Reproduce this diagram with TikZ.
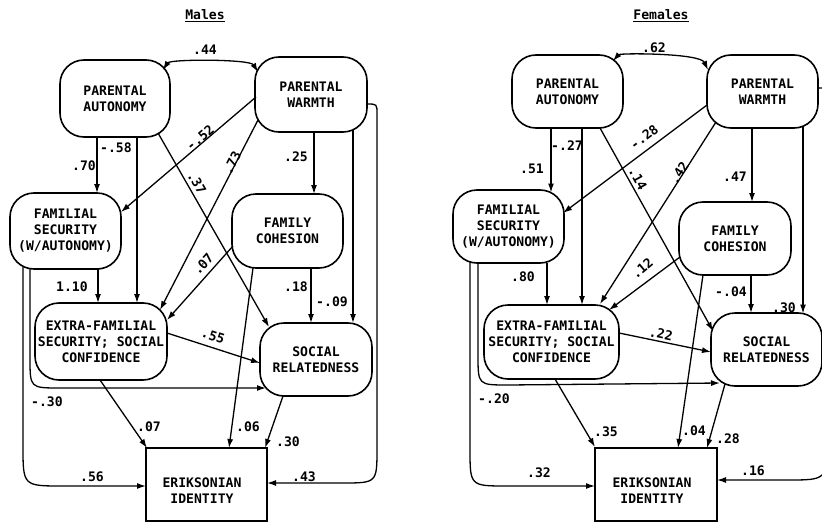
\documentclass[tikz,border=0pt]{standalone}
\usepackage{fontspec}
\newfontfamily\diagfont{DejaVu Sans Mono}
\newcommand\dfont{\diagfont\bfseries\fontsize{13.1}{16}\selectfont}
\usetikzlibrary{arrows.meta}
\tikzset{
  blob/.style={draw, line width=1.6pt, rounded corners=24pt, align=center, inner sep=0pt, font=\dfont},
  sqbox/.style={draw, line width=1.6pt, inner sep=0pt},
  lab/.style={font=\dfont, inner sep=0pt, align=center},
  arr/.style={-{Latex[length=9pt,width=6pt]}, line width=1.3pt},
  darr/.style={{Latex[length=9pt,width=6pt]}-{Latex[length=9pt,width=6pt]}, line width=1.3pt}
}
\begin{document}
\begin{tikzpicture}[x=1pt,y=-1pt]
\useasboundingbox (0,0) rectangle (822,522);

% ---------------- Males ----------------
\node[lab] (mT) at (205,16) {\underline{Males}};
\node[blob, minimum width=110pt, minimum height=77pt] (mPA) at (115,98.5) {PARENTAL\\AUTONOMY};
\node[blob, minimum width=112pt, minimum height=75pt] (mPW) at (311,94.5) {PARENTAL\\WARMTH};
\node[blob, minimum width=111pt, minimum height=76pt] (mFS) at (65.5,231) {FAMILIAL\\SECURITY\\(W/AUTONOMY)};
\node[blob, minimum width=111pt, minimum height=74pt] (mFC) at (287.5,231) {FAMILY\\COHESION};
\node[blob, minimum width=132pt, minimum height=77pt] (mEF) at (101,341.5) {EXTRA-FAMILIAL\\SECURITY; SOCIAL\\CONFIDENCE};
\node[blob, minimum width=112pt, minimum height=73pt] (mSR) at (316,359.5) {SOCIAL\\RELATEDNESS};
\node[sqbox, minimum width=121pt, minimum height=73pt] (mER) at (206.5,484.5) {};
\node[lab] (mERt) at (202,491) {ERIKSONIAN\\IDENTITY};

\draw[darr] ([shift={(48,-28.5)}]mPA.center) .. controls (170,59) and (250,59) .. ([shift={(-53,-22.5)}]mPW.center);
\draw[arr] ([shift={(-18,38.5)}]mPA.center) -- ([shift={(31.5,-38)}]mFS.center);
\draw[arr] ([shift={(22,38.5)}]mPA.center) -- ([shift={(36,-38.5)}]mEF.center);
\draw[arr] ([shift={(43,34.5)}]mPA.center) -- ([shift={(-47,-32.5)}]mSR.center);
\draw[arr] ([shift={(-55,2.5)}]mPW.center) -- ([shift={(55.5,-19)}]mFS.center);
\draw[arr] ([shift={(-53,25.5)}]mPW.center) -- ([shift={(59,-31.5)}]mEF.center);
\draw[arr] ([shift={(3,37.5)}]mPW.center) -- ([shift={(26.5,-37)}]mFC.center);
\draw[arr] ([shift={(42,35.5)}]mPW.center) -- ([shift={(37,-36.5)}]mSR.center);
\draw[arr] ([shift={(56,9.5)}]mPW.center) .. controls (377,104) .. (377,114) -- (377,448) .. controls (377,483) .. (342,483) -- ([shift={(60.5,-1.5)}]mER.center);
\draw[arr] ([shift={(-54.5,15)}]mFC.center) -- ([shift={(66,-21.5)}]mEF.center);
\draw[arr] ([shift={(23.5,37)}]mFC.center) -- ([shift={(-5,-36.5)}]mSR.center);
\draw[arr] ([shift={(-34.5,37)}]mFC.center) -- ([shift={(22.5,-36.5)}]mER.center);
\draw[arr] ([shift={(32.5,38)}]mFS.center) -- ([shift={(-3,-38.5)}]mEF.center);
\draw[arr] ([shift={(66,-8.5)}]mEF.center) -- ([shift={(-56,3.5)}]mSR.center);
\draw[arr] ([shift={(-1,38.5)}]mEF.center) -- ([shift={(-59.5,-36.5)}]mER.center);
\draw[arr] ([shift={(-33,36.5)}]mSR.center) -- ([shift={(58.5,-36.5)}]mER.center);
\draw[arr] ([shift={(-35.5,37)}]mFS.center) -- (30,358) .. controls (30,388) .. (60,388) -- ([shift={(-50,28.5)}]mSR.center);
\draw[arr] ([shift={(-42.5,35)}]mFS.center) -- (23,446) .. controls (23,486) .. (63,486) -- ([shift={(-60.5,1.5)}]mER.center);

\node[lab] at (205,50) {.44};
\node[lab] at (84,166) {.70};
\node[lab] at (116,148) {-.58};
\node[lab, rotate=-60] at (197,183) {.37};
\node[lab, rotate=40] at (200,138) {-.52};
\node[lab, rotate=63] at (232,163) {.73};
\node[lab] at (296,157) {.25};
\node[lab] at (296,287) {.18};
\node[lab] at (332,302) {-.09};
\node[lab, rotate=48] at (203,264) {.07};
\node[lab] at (72,287) {1.10};
\node[lab, rotate=-18] at (213,336) {.55};
\node[lab] at (149,427) {.07};
\node[lab] at (248,427) {.06};
\node[lab] at (288,442) {.30};
\node[lab] at (92,477) {.56};
\node[lab] at (304,477) {.43};
\node[lab] at (47,402) {-.30};

% ---------------- Females ----------------
\node[lab] (fT) at (661,16) {\underline{Females}};
\node[blob, minimum width=111pt, minimum height=73pt] (fPA) at (567.5,91.5) {PARENTAL\\AUTONOMY};
\node[blob, minimum width=111pt, minimum height=73pt] (fPW) at (762.5,91.5) {PARENTAL\\WARMTH};
\node[blob, minimum width=111pt, minimum height=73pt] (fFS) at (508.5,226.5) {FAMILIAL\\SECURITY\\(W/AUTONOMY)};
\node[blob, minimum width=112pt, minimum height=73pt] (fFC) at (735,238.5) {FAMILY\\COHESION};
\node[blob, minimum width=135pt, minimum height=74pt] (fEF) at (551.5,342) {EXTRA-FAMILIAL\\SECURITY; SOCIAL\\CONFIDENCE};
\node[blob, minimum width=111pt, minimum height=73pt] (fSR) at (766.5,349.5) {SOCIAL\\RELATEDNESS};
\node[sqbox, minimum width=122pt, minimum height=73pt] (fER) at (656,484.5) {};
\node[lab] (fERt) at (652,491) {ERIKSONIAN\\IDENTITY};

\draw[darr] ([shift={(45.5,-30.5)}]fPA.center) .. controls (620,53) and (700,53) .. ([shift={(-54.5,-21.5)}]fPW.center);
\draw[arr] ([shift={(-16.5,36.5)}]fPA.center) -- ([shift={(42.5,-34)}]fFS.center);
\draw[arr] ([shift={(14.5,36.5)}]fPA.center) -- ([shift={(30.5,-37)}]fEF.center);
\draw[arr] ([shift={(32.5,36.5)}]fPA.center) -- ([shift={(-53.5,-18.5)}]fSR.center);
\draw[arr] ([shift={(-55.5,13.5)}]fPW.center) -- ([shift={(54.5,-13.5)}]fFS.center);
\draw[arr] ([shift={(-46.5,30.5)}]fPW.center) -- ([shift={(48.5,-38)}]fEF.center);
\draw[arr] ([shift={(-10.5,36.5)}]fPW.center) -- ([shift={(17,-36.5)}]fFC.center);
\draw[arr] ([shift={(40.5,34.5)}]fPW.center) -- ([shift={(36.5,-36)}]fSR.center);
\draw[arr] ([shift={(55.5,-3.5)}]fPW.center) .. controls (827,88) .. (827,98) -- (827,440) .. controls (827,480) .. (787,480) -- ([shift={(61,-4.5)}]fER.center);
\draw[arr] ([shift={(-55,18.5)}]fFC.center) -- ([shift={(57.5,-32)}]fEF.center);
\draw[arr] ([shift={(16,36.5)}]fFC.center) -- ([shift={(-15.5,-36.5)}]fSR.center);
\draw[arr] ([shift={(-32,36.5)}]fFC.center) -- ([shift={(22,-36.5)}]fER.center);
\draw[arr] ([shift={(38.5,36.5)}]fFS.center) -- ([shift={(-4.5,-37)}]fEF.center);
\draw[arr] ([shift={(67.5,-9)}]fEF.center) -- ([shift={(-55.5,2.5)}]fSR.center);
\draw[arr] ([shift={(3.5,37)}]fEF.center) -- ([shift={(-61,-37.5)}]fER.center);
\draw[arr] ([shift={(-41.5,34.5)}]fSR.center) -- ([shift={(51,-36.5)}]fER.center);
\draw[arr] ([shift={(-30.5,36.5)}]fFS.center) -- (478,355) .. controls (478,385) .. (508,385) -- ([shift={(-46.5,33.5)}]fSR.center);
\draw[arr] ([shift={(-38.5,35.5)}]fFS.center) -- (470,449) .. controls (470,486) .. (507,486) -- ([shift={(-61,1.5)}]fER.center);

\node[lab] at (654,48) {.62};
\node[lab] at (532,169) {.51};
\node[lab] at (567,146) {-.27};
\node[lab, rotate=-61] at (638,179) {.14};
\node[lab, rotate=37] at (644,137) {-.28};
\node[lab, rotate=57] at (679,173) {.42};
\node[lab] at (735,177) {.47};
\node[lab, rotate=40] at (642,268) {.12};
\node[lab] at (523,277) {.80};
\node[lab] at (731,292) {-.04};
\node[lab] at (784,308) {.30};
\node[lab, rotate=-12] at (661,334) {.22};
\node[lab] at (606,432) {.35};
\node[lab] at (694,431) {.04};
\node[lab] at (728,439) {.28};
\node[lab] at (539,473) {.32};
\node[lab] at (753,471) {.16};
\node[lab] at (494,399) {-.20};
\end{tikzpicture}
\end{document}
